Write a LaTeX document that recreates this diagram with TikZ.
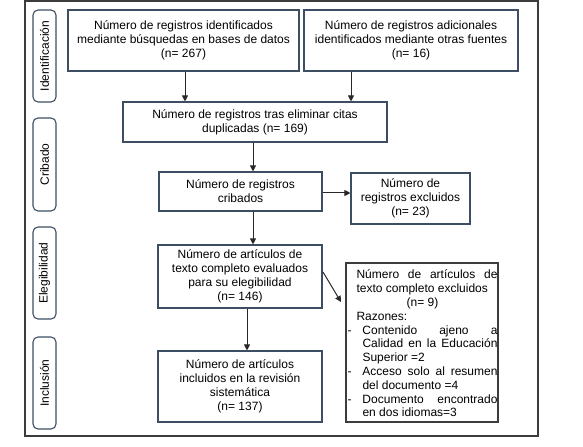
\documentclass[tikz,border=0pt]{standalone}
\usepackage{fontspec}
\setmainfont{Liberation Sans}
\usetikzlibrary{arrows.meta}
\definecolor{bordc}{RGB}{62,78,98}
\definecolor{framec}{RGB}{60,60,60}
\definecolor{arrc}{RGB}{40,40,40}
\tikzset{
  flowbox/.style={draw=bordc, line width=1.1bp, align=center, inner sep=1bp,
    font=\fontsize{12bp}{14bp}\selectfont},
  phasebox/.style={draw=bordc, line width=1.1bp, rounded corners=5bp,
    minimum width=23bp, inner sep=0pt},
  phaselabel/.style={rotate=90, font=\fontsize{12bp}{14bp}\selectfont, inner sep=0pt},
  flowarrow/.style={draw=arrc, line width=1bp, -{Triangle[length=6bp,width=6bp]}}
}
\begin{document}
\begin{tikzpicture}[x=1bp,y=-1bp]
\useasboundingbox (0,0) rectangle (583,447);
% outer frame
\draw[framec, line width=1.1bp] (25,1) rectangle (538,436);
% phase labels
\node[phasebox, minimum height=92bp] (p1) at (44.5,56) {};
\node[phaselabel] (p1t) at (p1.center) {Identificación};
\node[phasebox, minimum height=93bp] (p2) at (44.5,164.5) {};
\node[phaselabel] (p2t) at (p2.center) {Cribado};
\node[phasebox, minimum height=92bp] (p3) at (44.5,273) {};
\node[phaselabel] (p3t) at (p3.center) {Elegibilidad};
\node[phasebox, minimum height=92bp] (p4) at (44.5,383) {};
\node[phaselabel] (p4t) at (p4.center) {Inclusión};
% boxes
\node[flowbox, minimum width=231bp, minimum height=61bp] (b1) at (183.5,40.5)
  {Número de registros identificados\\mediante búsquedas en bases de datos\\(n= 267)};
\node[flowbox, minimum width=214bp, minimum height=61bp] (b2) at (411,40.5)
  {Número de registros adicionales\\identificados mediante otras fuentes\\(n= 16)};
\node[flowbox, minimum width=264bp, minimum height=40bp] (b3) at (255,122)
  {Número de registros tras eliminar citas\\duplicadas (n= 169)};
\node[flowbox, minimum width=163bp, minimum height=39bp] (b4) at (240.5,191.5)
  {Número de registros\\cribados};
\node[flowbox, minimum width=119bp, minimum height=51bp] (b5) at (410.5,198.5)
  {Número de\\registros excluidos\\(n= 23)};
\node[flowbox, minimum width=164bp, minimum height=63bp] (b6) at (240,276.5)
  {Número de artículos de\\texto completo evaluados\\para su elegibilidad\\(n= 146)};
\node[flowbox, minimum width=164bp, minimum height=71bp] (b7) at (240,386.5)
  {Número de artículos\\incluidos en la revisión\\sistemática\\(n= 137)};
\node[draw=framec, line width=1.1bp, minimum width=152bp, minimum height=159bp, inner sep=0pt] (b8) at (422,342.5) {};
\node[inner sep=0pt, font=\fontsize{12bp}{13.8bp}\selectfont] (b8t) at (422.5,343.5) {\parbox{150bp}{%
  \parindent=0pt \tolerance=9999 \emergencystretch=10bp \parfillskip=0pt plus 1fil
  \hyphenpenalty=10000 \exhyphenpenalty=10000
  {\leftskip=9bp Número de artículos de texto completo excluidos\par}
  {\centering (n= 9)\par}
  {\leftskip=9bp Razones:\par}
  {\hangindent=15bp \hangafter=1 \makebox[15bp][l]{-}Contenido ajeno a Calidad en la Educación Superior =2\par}
  {\hangindent=15bp \hangafter=1 \makebox[15bp][l]{-}Acceso solo al resumen del documento =4\par}
  {\hangindent=15bp \hangafter=1 \makebox[15bp][l]{-}Documento encontrado en dos idiomas=3\par}
}};
% arrows
\coordinate (a8) at (341,302);
\coordinate (a6) at (323,272);
\draw[flowarrow] (b1.south -| 185,0) -- (b3.north -| 185,0);
\draw[flowarrow] (b2.south -| 351,0) -- (b3.north -| 351,0);
\draw[flowarrow] (b3.south -| 253,0) -- (b4.north -| 253,0);
\draw[flowarrow] (b4.south -| 253,0) -- (b6.north -| 253,0);
\draw[flowarrow] (b4.east |- 0,193) -- (b5.west |- 0,193);
\draw[flowarrow] (b6.south -| 247,0) -- (b7.north -| 247,0);
\draw[flowarrow] (a6) -- (a8);
\end{tikzpicture}
\end{document}
